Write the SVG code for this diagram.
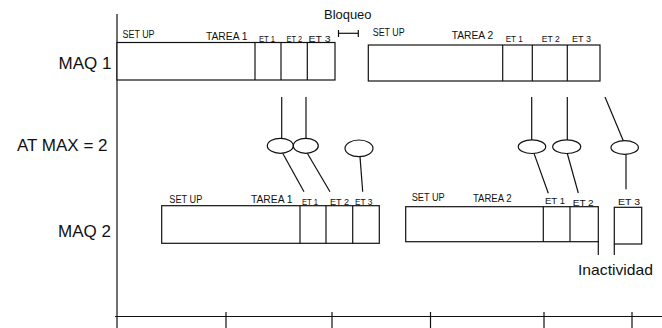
<svg xmlns="http://www.w3.org/2000/svg" width="662" height="328" viewBox="0 0 662 328">
<style>
.ln{stroke:#111;stroke-width:1.2;fill:none}
.bx{stroke:#111;stroke-width:1.2;fill:#fff}
.t{font-family:"Liberation Sans",Arial,sans-serif;fill:#111}
.big{font-size:17px}
.mid{font-size:13.5px}
.sm{font-size:10px}
.xs{font-size:9px}
</style>
<rect width="662" height="328" fill="#fff"/>
<g id="axes">
<line class="ln" x1="117" y1="14" x2="117" y2="328"/>
<line class="ln" x1="115" y1="316.5" x2="662" y2="316.5"/>
<line class="ln" x1="226" y1="312" x2="226" y2="328"/>
<line class="ln" x1="332" y1="312" x2="332" y2="328"/>
<line class="ln" x1="430.5" y1="312" x2="430.5" y2="328"/>
<line class="ln" x1="544" y1="312" x2="544" y2="328"/>
<line class="ln" x1="632" y1="312" x2="632" y2="328"/>
</g>
<g id="row-labels">
<text class="t big" x="111.5" y="68.5" text-anchor="end">MAQ 1</text>
<text class="t big" x="107.5" y="151" text-anchor="end">AT MAX = 2</text>
<text class="t big" x="111" y="236.5" text-anchor="end">MAQ 2</text>
</g>
<g id="bloqueo">
<text class="t mid" x="324" y="19" textLength="47.5" lengthAdjust="spacingAndGlyphs">Bloqueo</text>
<line class="ln" x1="338.5" y1="33.3" x2="358.3" y2="33.3"/>
<line class="ln" x1="338.5" y1="30" x2="338.5" y2="37"/>
<line class="ln" x1="358.3" y1="30" x2="358.3" y2="37"/>
</g>
<g id="maq1-tarea1">
<rect class="bx" x="117" y="42.5" width="218" height="37.5"/>
<line class="ln" x1="255" y1="42.5" x2="255" y2="80"/>
<line class="ln" x1="281" y1="42.5" x2="281" y2="80"/>
<line class="ln" x1="307.3" y1="42.5" x2="307.3" y2="80"/>
<text class="t sm" x="122.5" y="38.3" textLength="32" lengthAdjust="spacingAndGlyphs">SET UP</text>
<text class="t sm" x="206" y="40" textLength="41.5" lengthAdjust="spacingAndGlyphs">TAREA 1</text>
<text class="t xs" x="259" y="42" textLength="16" lengthAdjust="spacingAndGlyphs">ET 1</text>
<text class="t xs" x="286.5" y="42" textLength="15.5" lengthAdjust="spacingAndGlyphs">ET 2</text>
<text class="t xs" x="308.5" y="42" textLength="22" lengthAdjust="spacingAndGlyphs">ET 3</text>
</g>
<g id="maq1-tarea2">
<rect class="bx" x="368.3" y="45" width="231.7" height="36"/>
<line class="ln" x1="502.7" y1="45" x2="502.7" y2="81"/>
<line class="ln" x1="532.3" y1="45" x2="532.3" y2="81"/>
<line class="ln" x1="567.3" y1="45" x2="567.3" y2="81"/>
<text class="t sm" x="372.7" y="36" textLength="32" lengthAdjust="spacingAndGlyphs">SET UP</text>
<text class="t sm" x="451.7" y="39" textLength="41.5" lengthAdjust="spacingAndGlyphs">TAREA 2</text>
<text class="t xs" x="505.7" y="41.5" textLength="17" lengthAdjust="spacingAndGlyphs">ET 1</text>
<text class="t xs" x="541.7" y="41.5" textLength="18" lengthAdjust="spacingAndGlyphs">ET 2</text>
<text class="t xs" x="572" y="41.5" textLength="19" lengthAdjust="spacingAndGlyphs">ET 3</text>
</g>
<g id="maq2-tarea1">
<rect class="bx" x="161.7" y="205.7" width="217.6" height="37.6"/>
<line class="ln" x1="300" y1="205.7" x2="300" y2="243.3"/>
<line class="ln" x1="326" y1="205.7" x2="326" y2="243.3"/>
<line class="ln" x1="352.7" y1="205.7" x2="352.7" y2="243.3"/>
<text class="t sm" x="169.3" y="203" textLength="33" lengthAdjust="spacingAndGlyphs">SET UP</text>
<text class="t sm" x="251" y="203" textLength="41.5" lengthAdjust="spacingAndGlyphs">TAREA 1</text>
<text class="t xs" x="302" y="204.5" textLength="16" lengthAdjust="spacingAndGlyphs">ET 1</text>
<text class="t xs" x="330" y="204.5" textLength="19" lengthAdjust="spacingAndGlyphs">ET 2</text>
<text class="t xs" x="355" y="204.5" textLength="17.5" lengthAdjust="spacingAndGlyphs">ET 3</text>
</g>
<g id="maq2-tarea2">
<rect class="bx" x="405.7" y="206.7" width="192.6" height="35"/>
<line class="ln" x1="543.3" y1="206.7" x2="543.3" y2="241.7"/>
<line class="ln" x1="570" y1="206.7" x2="570" y2="241.7"/>
<text class="t sm" x="411.7" y="200.7" textLength="33" lengthAdjust="spacingAndGlyphs">SET UP</text>
<text class="t sm" x="473" y="201.7" textLength="38.5" lengthAdjust="spacingAndGlyphs">TAREA 2</text>
<text class="t xs" x="545" y="204" textLength="20" lengthAdjust="spacingAndGlyphs">ET 1</text>
<text class="t xs" x="572.7" y="205.5" textLength="21" lengthAdjust="spacingAndGlyphs">ET 2</text>
</g>
<g id="maq2-et3">
<rect class="bx" x="614.3" y="207.3" width="27.4" height="36.7"/>
<text class="t xs" x="618" y="205" textLength="22" lengthAdjust="spacingAndGlyphs">ET 3</text>
</g>
<g id="inactividad">
<line class="ln" x1="598.3" y1="241.7" x2="598.3" y2="255"/>
<line class="ln" x1="614.3" y1="244" x2="614.3" y2="255"/>
<text class="t" style="font-size:14.5px" x="578" y="275" textLength="75" lengthAdjust="spacingAndGlyphs">Inactividad</text>
</g>
<g id="tokens">
<ellipse class="bx" cx="280.3" cy="145.8" rx="13" ry="7.5"/>
<ellipse class="bx" cx="305.8" cy="145.8" rx="12.5" ry="7.5"/>
<ellipse class="bx" cx="359" cy="148.3" rx="14" ry="8.3"/>
<ellipse class="bx" cx="532" cy="146.7" rx="13.7" ry="6.8"/>
<ellipse class="bx" cx="566.7" cy="146.7" rx="14" ry="6.8"/>
<ellipse class="bx" cx="624.7" cy="147.5" rx="13.7" ry="6.8"/>
</g>
<g id="connectors">
<line class="ln" x1="281.7" y1="97" x2="281.7" y2="138.3"/>
<line class="ln" x1="306" y1="97" x2="306" y2="138.3"/>
<line class="ln" x1="282.7" y1="153.3" x2="304" y2="191.7"/>
<line class="ln" x1="307.3" y1="153.3" x2="330" y2="191.7"/>
<line class="ln" x1="360" y1="156.6" x2="362.7" y2="191.7"/>
<line class="ln" x1="531.7" y1="97" x2="531.7" y2="139.9"/>
<line class="ln" x1="567.3" y1="97" x2="567.3" y2="139.9"/>
<line class="ln" x1="605" y1="97" x2="623.3" y2="140.7"/>
<line class="ln" x1="534" y1="153.4" x2="548.3" y2="193.3"/>
<line class="ln" x1="567.3" y1="153.5" x2="578.3" y2="193"/>
<line class="ln" x1="626" y1="154.3" x2="626" y2="189.3"/>
</g>
</svg>
